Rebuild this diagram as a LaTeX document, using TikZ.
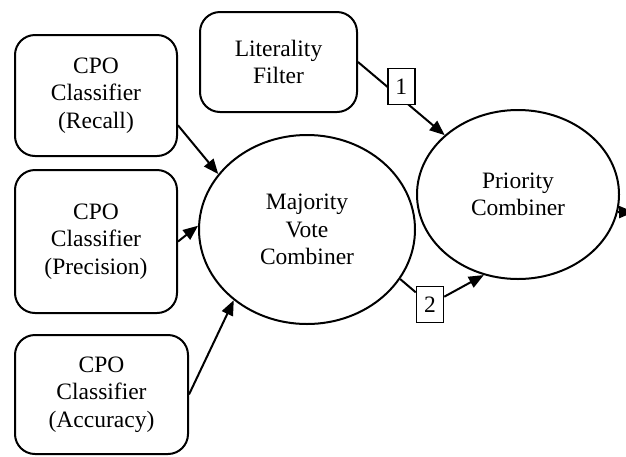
\documentclass[tikz,border=0pt]{standalone}
\usepackage{fontspec}
\setmainfont{Liberation Serif}
\usetikzlibrary{arrows.meta,shapes.geometric}

\begin{document}
\begin{tikzpicture}[x=1pt, y=-1pt,
        font=\fontsize{23.5}{27.5}\selectfont,
        box/.style={rectangle, draw, line width=2pt, rounded corners=20pt, align=center, inner sep=0pt},
        combiner/.style={ellipse, draw, line width=2pt, align=center, inner sep=0pt},
        tag/.style={rectangle, draw, fill=white, line width=1.5pt, minimum width=27pt, minimum height=36pt, inner sep=0pt},
        arrow/.style={-{Triangle[length=15pt, width=12pt]}, line width=2pt}
    ]
        \useasboundingbox (0,0) rectangle (626,456);
        \node[box, minimum width=162pt, minimum height=121pt] (recall) at (96,95.5)
            {CPO\\Classifier\\(Recall)};
        \node[box, minimum width=157pt, minimum height=100pt] (filter) at (278.5,62)
            {Literality\\Filter};
        \node[box, minimum width=162pt, minimum height=143pt] (precision) at (96,241.5)
            {CPO\\Classifier\\(Precision)};
        \node[box, minimum width=173pt, minimum height=119pt] (accuracy) at (101.5,394.5)
            {CPO\\Classifier\\(Accuracy)};
        \node[combiner, minimum width=216pt, minimum height=189pt] (majority) at (307,229.5)
            {Majority\\Vote\\Combiner};
        \node[combiner, minimum width=202pt, minimum height=169pt] (priority) at (518,194.5)
            {Priority\\Combiner};
        \node[tag] (two) at (430,304.5) {2};
        \coordinate (out) at (634,212);
        \draw[arrow] (recall.-20) -- (majority.148);
        \draw[arrow] (precision.east) -- (majority.178);
        \draw[arrow] (accuracy.east) -- (majority.224);
        \draw[arrow] (filter.east) -- node[tag, pos=0.5, yshift=12pt] {1} (priority.141);
        \draw[arrow] (majority.-28) -- (two) -- (priority.-113);
        \draw[arrow] (priority.-10) -- (out);
    \end{tikzpicture}
\end{document}
